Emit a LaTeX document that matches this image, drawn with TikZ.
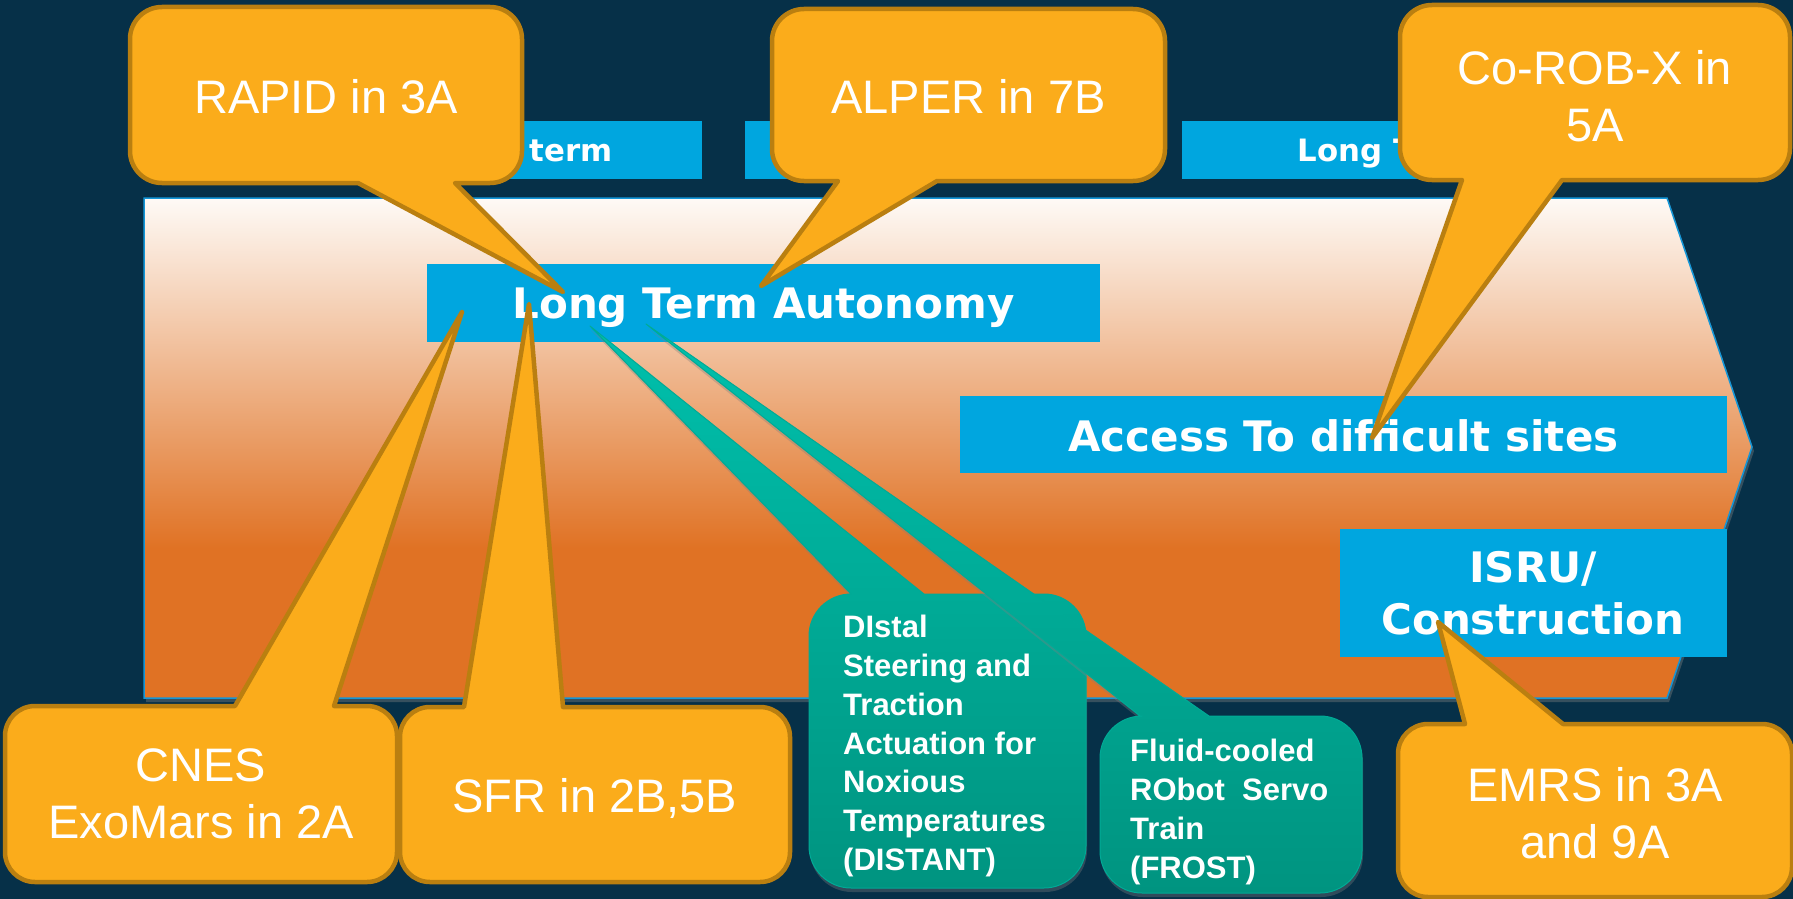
\documentclass[tikz,border=0pt]{standalone}
\usepackage{fontspec}
\setmainfont{Liberation Sans}
\newfontfamily\vfont{DejaVu Sans}
\usetikzlibrary{shadows}
\definecolor{bg}{RGB}{6,48,72}
\definecolor{lblue}{RGB}{0,166,223}
\definecolor{orfill}{RGB}{251,172,27}
\definecolor{ordraw}{RGB}{186,127,16}
\definecolor{arrowOr}{RGB}{224,114,36}
\definecolor{arrowTop}{RGB}{254,250,246}
\definecolor{arrowEdge}{RGB}{20,150,215}
\definecolor{gTop}{RGB}{0,192,172}
\definecolor{gBot}{RGB}{0,148,128}
\definecolor{gEdge}{RGB}{0,170,150}
\pgfdeclareverticalshading{arrowshade}{100bp}{color(0bp)=(arrowOr); color(40bp)=(arrowOr); color(75bp)=(arrowTop); color(100bp)=(arrowTop)}
\def\callR{32}
% callout with tail on the bottom edge: #1 style, #2 left, #3 top, #4 right, #5 bottom, #6 #7 tail base, #8 tip
\newcommand\bcall[8]{\path[#1] (#8) -- (#6,#5) -- ({#2+\callR},#5) .. controls ({#2+0.448*\callR},#5) and (#2,{#5-0.448*\callR}) .. (#2,{#5-\callR}) -- (#2,{#3+\callR}) .. controls (#2,{#3+0.448*\callR}) and ({#2+0.448*\callR},#3) .. ({#2+\callR},#3) -- ({#4-\callR},#3) .. controls ({#4-0.448*\callR},#3) and (#4,{#3+0.448*\callR}) .. (#4,{#3+\callR}) -- (#4,{#5-\callR}) .. controls (#4,{#5-0.448*\callR}) and ({#4-0.448*\callR},#5) .. ({#4-\callR},#5) -- (#7,#5) -- cycle;}
% callout with tail on the top edge
\newcommand\tcall[8]{\path[#1] (#8) -- (#7,#3) -- ({#4-\callR},#3) .. controls ({#4-0.448*\callR},#3) and (#4,{#3+0.448*\callR}) .. (#4,{#3+\callR}) -- (#4,{#5-\callR}) .. controls (#4,{#5-0.448*\callR}) and ({#4-0.448*\callR},#5) .. ({#4-\callR},#5) -- ({#2+\callR},#5) .. controls ({#2+0.448*\callR},#5) and (#2,{#5-0.448*\callR}) .. (#2,{#5-\callR}) -- (#2,{#3+\callR}) .. controls (#2,{#3+0.448*\callR}) and ({#2+0.448*\callR},#3) .. ({#2+\callR},#3) -- (#6,#3) -- cycle;}
\tikzset{
  ocall/.style={fill=orfill, draw=ordraw, line width=4.5pt, line join=round},
  gcall/.style={top color=gTop, bottom color=gBot, draw=gEdge, line width=1pt, line join=round,
    drop shadow={shadow xshift=1pt, shadow yshift=-4pt, opacity=0.35}},
  otext/.style={text=white, font=\fontsize{47}{57.5}\selectfont, align=center, inner sep=0pt},
  gtext/.style={text=white, font=\bfseries\fontsize{31}{38.7}\selectfont, align=left, inner sep=0pt, anchor=west},
  btext/.style={text=white, font=\vfont\bfseries\fontsize{42}{52}\selectfont, inner sep=0pt, align=center},
  bartext/.style={text=white, font=\vfont\bfseries\fontsize{30.8}{36}\selectfont, inner sep=0pt, anchor=base},
}
\begin{document}
\begin{tikzpicture}[x=1pt, y=-1pt]
\useasboundingbox (0,0) rectangle (1793,899);
\fill[bg] (0,0) rectangle (1793,899);
% time bars
\fill[lblue] (335,121) rectangle (702,179);
\fill[lblue] (745,121) rectangle (1140,179);
\fill[lblue] (1182,121) rectangle (1594,179);
\node[bartext] (short) at (518.5,161.5) {Short term};
\node[bartext] (long) at (1388,161.5) {Long Term};
% big arrow
\path[shade, shading=arrowshade, draw=arrowEdge, line width=1.5pt,
  drop shadow={shadow xshift=2pt, shadow yshift=-4pt, opacity=0.4}]
  (144,198) -- (1667,198) -- (1752,447) -- (1667,698) -- (144,698) -- cycle;
% blue labels
\fill[lblue] (427,264) rectangle (1100,342);
\node[btext, anchor=base] (lta) at (763.5,318) {Long Term Autonomy};
\fill[lblue] (960,396) rectangle (1727,473);
\node[btext, anchor=base] (acc) at (1343.5,451) {Access To difficult sites};
\fill[lblue] (1340,529) rectangle (1727,657);
\node[btext] (isru) at (1533,593) {ISRU/\\Construction};
% tips
\coordinate (tRAPID) at (563,292);
\coordinate (tALPER) at (761,286);
\coordinate (tCOROB) at (1372,438);
\coordinate (tCNES) at (462,312);
\coordinate (tSFR) at (529,304);
\coordinate (tEMRS) at (1438,622);
\coordinate (tDIST) at (590,326);
\coordinate (tFROST) at (646,324);
% green callouts
\def\callR{42}
\tcall{gcall}{809}{594}{1086}{888}{851}{924}{tDIST}
\node[gtext] (distant) at (843,746) {DIstal\\Steering and\\Traction\\Actuation for\\Noxious\\Temperatures\\(DISTANT)};
\tcall{gcall}{1100}{716}{1362}{893}{1140}{1209}{tFROST}
\node[gtext] (frost) at (1130,812) {Fluid-cooled\\RObot\ \ Servo\\Train\\(FROST)};
% orange callouts
\def\callR{32}
\bcall{ocall}{130}{7}{522}{183}{358}{455}{tRAPID}
\node[otext, anchor=base] (rapid) at (326,113) {RAPID in 3A};
\bcall{ocall}{772}{9}{1165}{181}{838}{937}{tALPER}
\node[otext, anchor=base] (alper) at (968.5,113) {ALPER in 7B};
\bcall{ocall}{1400}{5}{1790}{180}{1462}{1562}{tCOROB}
\node[otext] (corob) at (1595,96) {Co-ROB-X in\\5A};
\def\callR{30}
\tcall{ocall}{5}{706}{397}{882}{235}{334}{tCNES}
\node[otext] (cnes) at (201,794) {CNES\\ExoMars in 2A};
\tcall{ocall}{400}{707}{790}{882}{464}{563}{tSFR}
\node[otext, anchor=base] (sfr) at (595,812) {SFR in 2B,5B};
\tcall{ocall}{1398}{724}{1792}{897}{1465}{1563}{tEMRS}
\node[otext] (emrs) at (1595,813) {EMRS in 3A\\and 9A};
\end{tikzpicture}
\end{document}
